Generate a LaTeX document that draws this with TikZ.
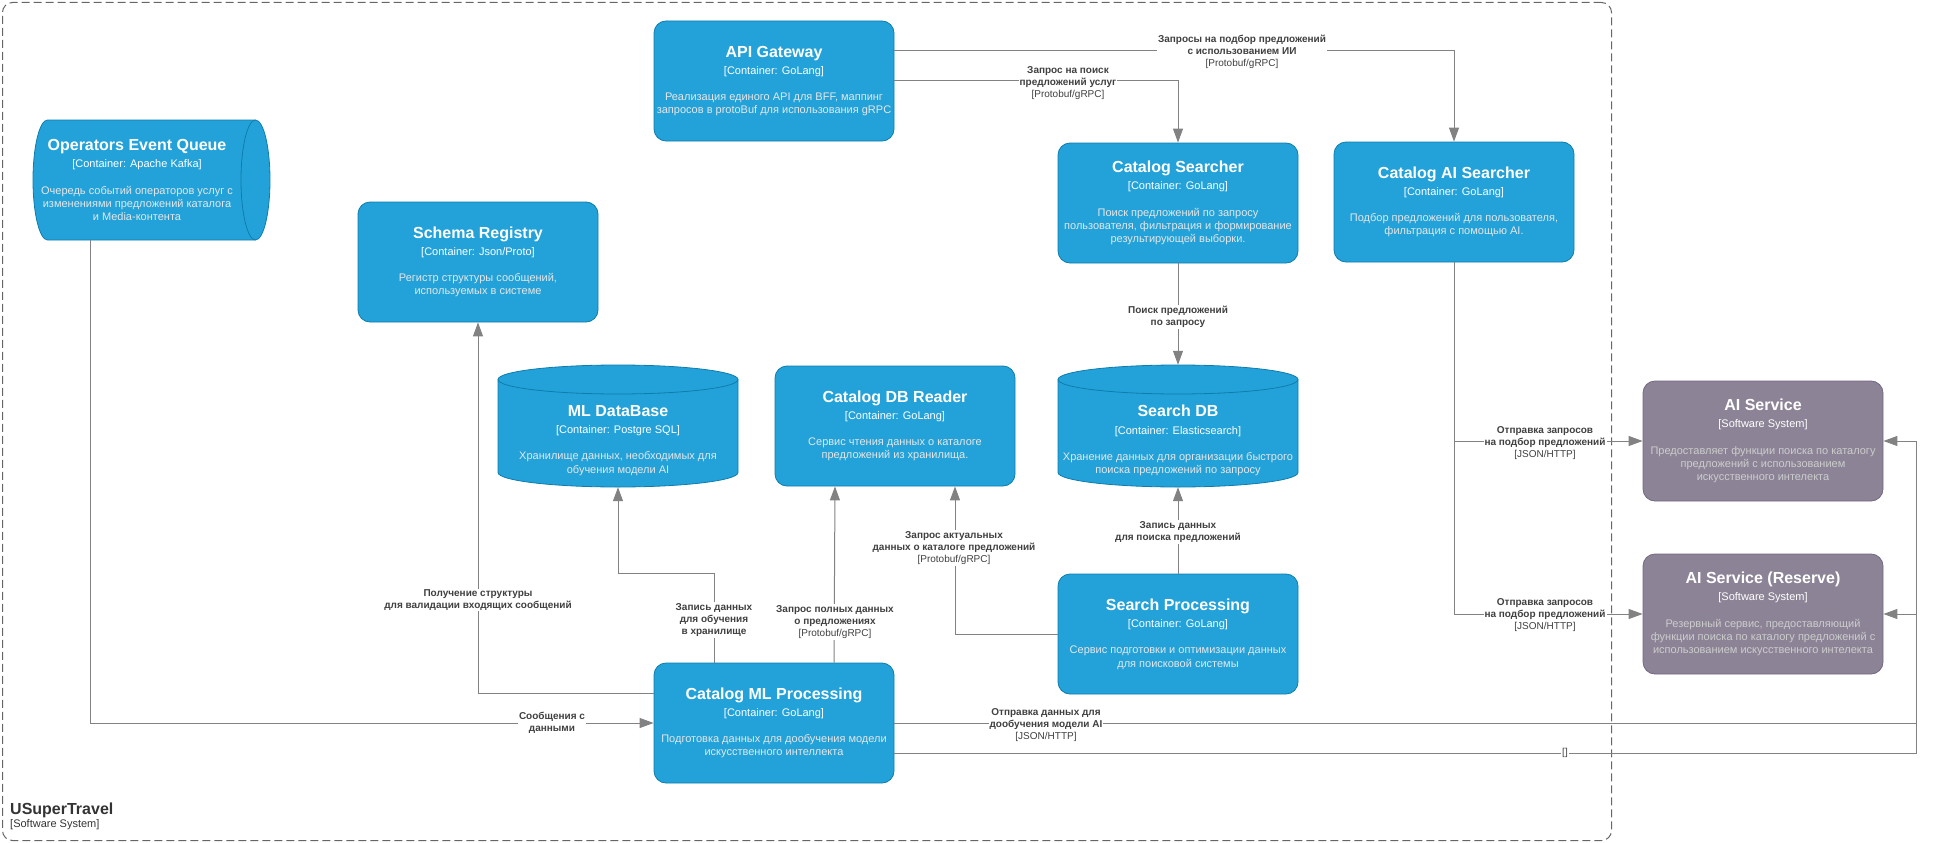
\documentclass[tikz,border=0pt]{standalone}
\usepackage{fontspec}
\setmainfont{Liberation Sans}
\usetikzlibrary{arrows.meta}

\definecolor{ctfill}{HTML}{23A2D9}
\definecolor{ctstroke}{HTML}{0E7DAD}
\definecolor{ctdesc}{HTML}{E6E6E6}
\definecolor{extfill}{HTML}{8C8496}
\definecolor{extstroke}{HTML}{736782}
\definecolor{extdesc}{HTML}{CCCCCC}
\definecolor{relgray}{HTML}{828282}
\definecolor{lbltext}{HTML}{404040}
\definecolor{bndgray}{HTML}{666666}
\definecolor{bndtext}{HTML}{333333}

% title + type line of a C4 element
\newcommand{\boxhead}[2]{\textcolor{white}{\fontsize{16}{19}\selectfont\bfseries #1}\\[4pt]\textcolor{white}{[#2]}\\[13pt]}

% vertical database cylinder: left x, top y, width, height
\newcommand{\dbshape}[4]{%
  \pgfmathsetmacro{\cylrx}{#3/2}%
  \filldraw[cylbody] (#1,#2+14.5) arc[start angle=180,end angle=0,x radius=\cylrx pt,y radius=14.5pt]
    -- (#1+#3,#2+#4-14.5) arc[start angle=0,end angle=-180,x radius=\cylrx pt,y radius=14.5pt] -- cycle;
  \draw[cylbody,fill=none] (#1,#2+14.5) arc[start angle=180,end angle=360,x radius=\cylrx pt,y radius=14.5pt];
}

\tikzset{
  container/.style={rectangle, rounded corners=12pt, fill=ctfill, draw=ctstroke, line width=0.8pt,
    minimum width=240pt, minimum height=120pt, inner sep=0pt, align=center, text=ctdesc,
    font=\fontsize{11}{13.2}\selectfont},
  extsys/.style={container, fill=extfill, draw=extstroke, text=extdesc},
  cylbody/.style={fill=ctfill, draw=ctstroke, line width=0.8pt},
  cyltext/.style={inner sep=0pt, align=center, text=ctdesc, font=\fontsize{11}{13.2}\selectfont},
  hit/.style={rectangle, draw=none, inner sep=0pt},
  rel/.style={draw=relgray, line width=1pt, -{Triangle[length=14pt,width=10pt]}},
  plain/.style={draw=relgray, line width=1pt},
  lbl/.style={fill=white, inner sep=1pt, align=center, text=lbltext, font=\fontsize{10}{12}\selectfont},
  boundary/.style={rectangle, draw=bndgray, line width=1pt, dash pattern=on 8pt off 4pt, rounded corners=10pt, inner sep=0pt},
}

\begin{document}
\begin{tikzpicture}[x=1pt,y=-1pt]
\useasboundingbox (0,0) rectangle (1936,843);

% system boundary
\node[boundary, minimum width=1609pt, minimum height=838pt] (usuper) at (807,421.5) {};
\node[anchor=base west, inner sep=0pt, text=bndtext, font=\fontsize{16}{19}\selectfont\bfseries] (usupername) at (10,814) {USuperTravel};
\node[anchor=base west, inner sep=0pt, text=bndtext, font=\fontsize{11}{13}\selectfont] (usupertype) at (10,827) {[Software System]};

% Operators Event Queue (horizontal cylinder)
\filldraw[cylbody] (47.5,120) arc[start angle=90,end angle=270,x radius=14.5pt,y radius=60pt]
  -- (255.5,240) arc[start angle=270,end angle=450,x radius=14.5pt,y radius=60pt] -- cycle;
\draw[cylbody,fill=none] (255.5,120) arc[start angle=90,end angle=270,x radius=14.5pt,y radius=60pt];
\node[hit, minimum width=237pt, minimum height=120pt] (oeq) at (151.5,180) {};
\node[cyltext] (oeqtext) at (137,180) {\boxhead{Operators Event Queue}{Container: Apache Kafka}Очередь событий операторов услуг с\\изменениями предложений каталога\\и Media-контента};

% containers
\node[container] (api) at (774,81) {\boxhead{API Gateway}{Container: GoLang}Реализация единого API для BFF, маппинг\\запросов в protoBuf для использования gRPC};
\node[container] (schema) at (478,262) {\boxhead{Schema Registry}{Container: Json/Proto}Регистр структуры сообщений,\\используемых в системе};
\node[container] (csearch) at (1178,203) {\boxhead{Catalog Searcher}{Container: GoLang}Поиск предложений по запросу\\пользователя, фильтрация и формирование\\результирующей выборки.};
\node[container] (aisearch) at (1454,202) {\boxhead{Catalog AI Searcher}{Container: GoLang}Подбор предложений для пользователя,\\фильтрация с помощью AI.};
\node[container] (dbreader) at (895,426) {\boxhead{Catalog DB Reader}{Container: GoLang}Сервис чтения данных о каталоге\\предложений из хранилища.};
\node[container] (sproc) at (1178,634) {\boxhead{Search Processing}{Container: GoLang}Сервис подготовки и оптимизации данных\\для поисковой системы};
\node[container] (mlproc) at (774,723) {\boxhead{Catalog ML Processing}{Container: GoLang}Подготовка данных для дообучения модели\\искусственного интеллекта};

% databases
\dbshape{498}{365}{240}{122}
\node[hit, minimum width=240pt, minimum height=122pt] (mldb) at (618,426) {};
\node[cyltext] (mldbtext) at (618,440.5) {\boxhead{ML DataBase}{Container: Postgre SQL}Хранилище данных, необходимых для\\обучения модели AI};
\dbshape{1058}{365}{240}{122}
\node[hit, minimum width=240pt, minimum height=122pt] (searchdb) at (1178,426) {};
\node[cyltext] (searchdbtext) at (1178,440.5) {\boxhead{Search DB}{Container: Elasticsearch}Хранение данных для организации быстрого\\поиска предложений по запросу};

% external systems
\node[extsys] (aisvc) at (1763,441) {\boxhead{AI Service}{Software System}Предоставляет функции поиска по каталогу\\предложений с использованием\\искусственного интелекта};
\node[extsys] (aires) at (1763,614) {\boxhead{AI Service (Reserve)}{Software System}Резервный сервис, предоставляющий\\функции поиска по каталогу предложений с\\использованием искусственного интелекта};

% right-hand rail
\coordinate (railx) at (1916,0);

% relationships
\draw[rel] ([yshift=30pt]api.east) -| (aisearch.north);
\draw[rel] (api.east) -| (csearch.north);
\draw[rel] (csearch.south) -- (searchdb.north);
\draw[rel] (aisearch.south) |- (aisvc.west);
\draw[rel] (aisearch.south) |- (aires.west);
\draw[rel] (sproc.north) -- (searchdb.south);
\draw[rel] (sproc.west) -| ([xshift=60pt]dbreader.south);
\draw[rel] ([xshift=60pt]mlproc.north) -- ([xshift=-60pt]dbreader.south);
\draw[rel] ([xshift=-60pt]mlproc.north) -- ++(0,-89) -| (mldb.south);
\draw[rel] ([yshift=30pt]mlproc.west) -| (schema.south);
\draw[rel] ([xshift=-61.5pt]oeq.south) |- (mlproc.west);
\draw[rel] (mlproc.east) -- (mlproc.east -| railx) |- (aisvc.east);
\draw[rel] ([yshift=-30pt]mlproc.east) -- ([yshift=-30pt]mlproc.east -| railx) |- (aires.east);

% relationship labels
\node[lbl] (l1) at (1242,52) {\textbf{Запросы на подбор предложений}\\\textbf{с использованием ИИ}\\{[Protobuf/gRPC]}};
\node[lbl] (l2) at (1068,83) {\textbf{Запрос на поиск}\\\textbf{предложений услуг}\\{[Protobuf/gRPC]}};
\node[lbl] (l3) at (1178,317) {\textbf{Поиск предложений}\\\textbf{по запросу}};
\node[lbl] (l4) at (1178,532) {\textbf{Запись данных}\\\textbf{для поиска предложений}};
\node[lbl] (l5) at (954,548) {\textbf{Запрос актуальных}\\\textbf{данных о каталоге предложений}\\{[Protobuf/gRPC]}};
\node[lbl] (l6) at (835,622) {\textbf{Запрос полных данных}\\\textbf{о предложениях}\\{[Protobuf/gRPC]}};
\node[lbl] (l7) at (714,620) {\textbf{Запись данных}\\\textbf{для обучения}\\\textbf{в хранилище}};
\node[lbl] (l8) at (478,600) {\textbf{Получение структуры}\\\textbf{для валидации входящих сообщений}};
\node[lbl] (l9) at (552,723) {\textbf{Сообщения с}\\\textbf{данными}};
\node[lbl] (l10) at (1046,725) {\textbf{Отправка данных для}\\\textbf{дообучения модели AI}\\{[JSON/HTTP]}};
\node[lbl] (l11) at (1545,443) {\textbf{Отправка запросов}\\\textbf{на подбор предложений}\\{[JSON/HTTP]}};
\node[lbl] (l12) at (1545,615) {\textbf{Отправка запросов}\\\textbf{на подбор предложений}\\{[JSON/HTTP]}};
\node[lbl] (l13) at (1565,753) {{[]}};
\end{tikzpicture}
\end{document}
